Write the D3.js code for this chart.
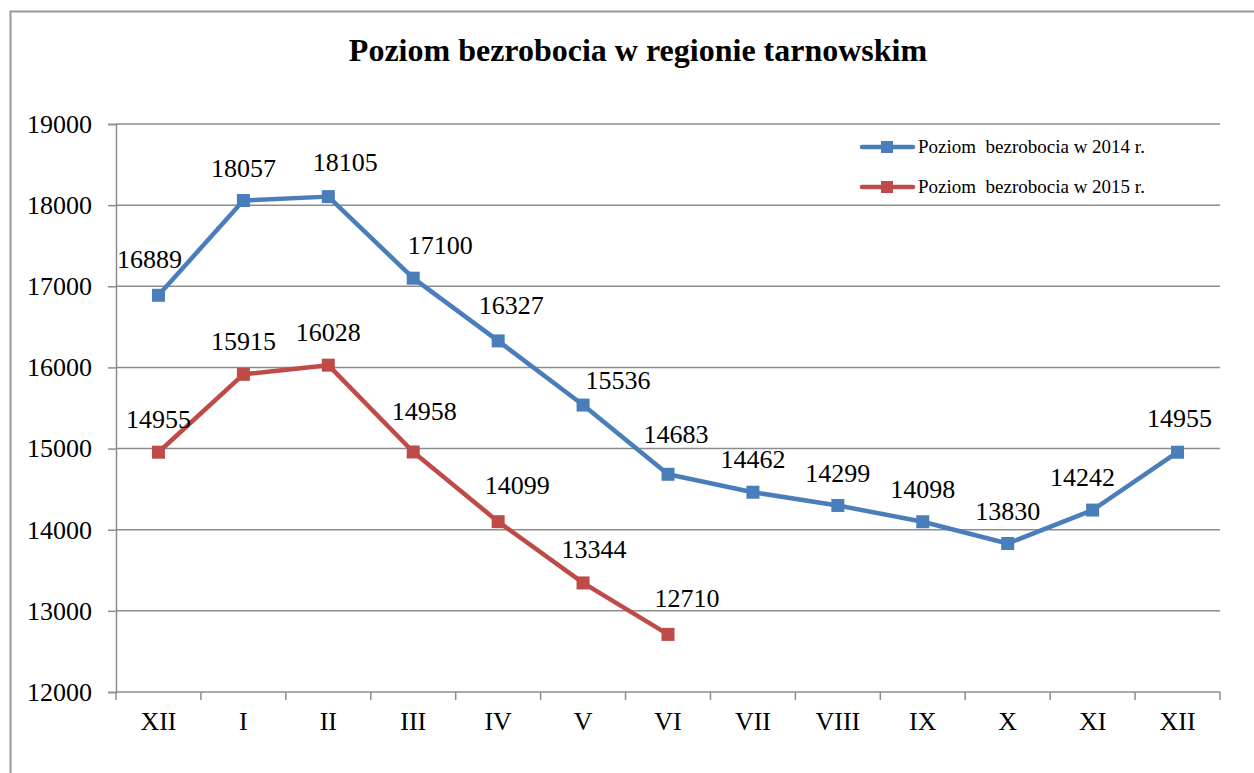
<!DOCTYPE html>
<html><head><meta charset="utf-8">
<script src="https://cdn.jsdelivr.net/npm/d3@7"></script>
<style>body{margin:0;background:#fff}svg{display:block}text{font-family:"Liberation Serif","Times New Roman",serif}</style>
</head><body>
<svg id="c" width="1254" height="773"></svg>
<script>
const categories = ["XII","I","II","III","IV","V","VI","VII","VIII","IX","X","XI","XII"];
const series2014 = [16889,18057,18105,17100,16327,15536,14683,14462,14299,14098,13830,14242,14955];
const series2015 = [14955,15915,16028,14958,14099,13344,12710];
const yTicks = [12000,13000,14000,15000,16000,17000,18000,19000];
const seriesNames = ["Poziom  bezrobocia w 2014 r.","Poziom  bezrobocia w 2015 r."];

const svg = d3.select("#c");
const F = "Liberation Serif, Times New Roman, serif";
const L=116, R=1220, T=124, B=692;
svg.append("rect").attr("x",10.5).attr("y",11.5).attr("width",1300).attr("height",800)
  .attr("fill","none").attr("stroke","#999").attr("stroke-width",2);

const x = d3.scaleBand().domain(d3.range(categories.length)).range([L,R]);
const y = d3.scaleLinear().domain([12000,19000]).range([B,T]);

svg.append("g").selectAll("line").data(yTicks.slice(1)).join("line")
  .attr("x1",L).attr("x2",R).attr("y1",d=>y(d)).attr("y2",d=>y(d))
  .attr("stroke","#8c8c8c").attr("stroke-width",1.5);

const ya = svg.append("g").attr("transform",`translate(${L},0)`)
  .call(d3.axisLeft(y).tickValues(yTicks).tickSize(8).tickPadding(16).tickFormat(d3.format("d")));
ya.select(".domain").attr("stroke","#8c8c8c").attr("stroke-width",1.5);
ya.selectAll(".tick line").attr("stroke","#8c8c8c").attr("stroke-width",1.5);
ya.selectAll("text").attr("font-family",F).attr("font-size",26).attr("fill","#000");

const xa = svg.append("g").attr("transform",`translate(0,${B})`)
  .call(d3.axisBottom(x).tickSize(0).tickPadding(20).tickFormat(i=>categories[i]));
xa.select(".domain").remove();
xa.selectAll("text").attr("font-family",F).attr("font-size",26).attr("fill","#000");
svg.append("g").selectAll("line").data(d3.range(categories.length+1)).join("line")
  .attr("x1",i=>L+i*x.step()).attr("x2",i=>L+i*x.step()).attr("y1",B).attr("y2",B+8)
  .attr("stroke","#8c8c8c").attr("stroke-width",1.5);
svg.append("line").attr("x1",L).attr("x2",R).attr("y1",B).attr("y2",B).attr("stroke","#8c8c8c").attr("stroke-width",1.5);

const cx = i => x(i)+x.bandwidth()/2;
const colors = ["#4A7EBB","#BE4B48"];
// label placement offsets (px) relative to each point
const labelDx = [[-9,0,17,27,13,35,8,0,0,0,0,-10,2],[0,0,0,11,19,11,19]];
const labelDy = [[-27,-24,-26,-24,-27,-16,-31,-24,-23,-24,-24,-24,-25],[-24,-24,-24,-32,-28,-25,-27]];
[series2014,series2015].forEach((s,k)=>{
  const line = d3.line().x((d,i)=>cx(i)).y(d=>y(d));
  svg.append("path").datum(s).attr("d",line).attr("fill","none")
    .attr("stroke",colors[k]).attr("stroke-width",4.5).attr("stroke-linejoin","round");
  svg.append("g").selectAll("rect").data(s).join("rect")
    .attr("x",(d,i)=>cx(i)-6.5).attr("y",d=>y(d)-6.5).attr("width",13).attr("height",13)
    .attr("fill",colors[k]);
  svg.append("g").selectAll("text").data(s).join("text")
    .attr("x",(d,i)=>cx(i)+labelDx[k][i]).attr("y",(d,i)=>y(d)+labelDy[k][i])
    .attr("text-anchor","middle").attr("font-family",F).attr("font-size",26).attr("fill","#000")
    .text(d=>d);
});

svg.append("text").attr("x",638).attr("y",61).attr("text-anchor","middle")
  .attr("font-family",F).attr("font-weight","bold").attr("font-size",32).text("Poziom bezrobocia w regionie tarnowskim");

seriesNames.forEach((n,k)=>{
  const ly = 147+k*40;
  svg.append("line").attr("x1",862).attr("x2",913).attr("y1",ly).attr("y2",ly)
    .attr("stroke",colors[k]).attr("stroke-width",4.5).attr("stroke-linecap","round");
  svg.append("rect").attr("x",881).attr("y",ly-6).attr("width",12).attr("height",12).attr("fill",colors[k]);
  svg.append("text").attr("x",918).attr("y",ly+6).attr("font-family",F).attr("font-size",19).text(n)
    .style("white-space","pre");
});
</script>
</body></html>
